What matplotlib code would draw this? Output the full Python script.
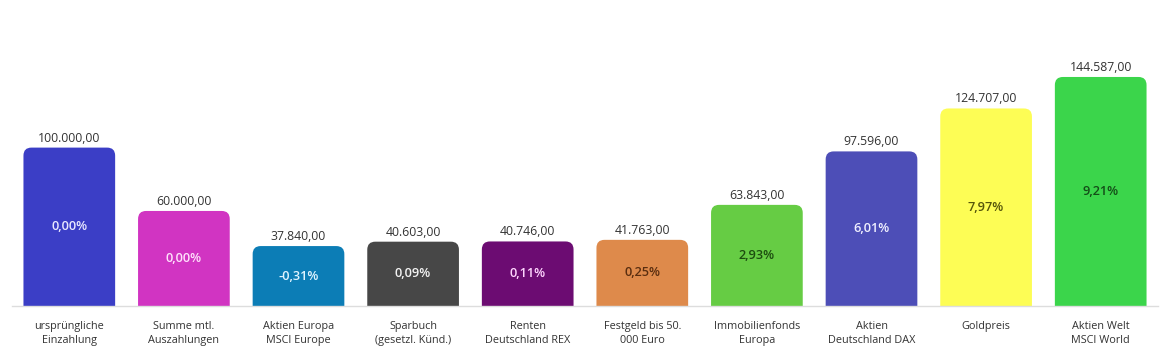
import matplotlib.pyplot as plt
from matplotlib.patches import FancyBboxPatch

plt.rcParams['font.family'] = ['Open Sans', 'DejaVu Sans']

# chart data
labels = ['ursprüngliche\nEinzahlung', 'Summe mtl.\nAuszahlungen', 'Aktien Europa\nMSCI Europe',
          'Sparbuch\n(gesetzl. Künd.)', 'Renten\nDeutschland REX', 'Festgeld bis 50.\n000 Euro',
          'Immobilienfonds\nEuropa', 'Aktien\nDeutschland DAX', 'Goldpreis', 'Aktien Welt\nMSCI World']
values = [100000, 60000, 37840, 40603, 40746, 41763, 63843, 97596, 124707, 144587]
value_text = ['100.000,00', '60.000,00', '37.840,00', '40.603,00', '40.746,00', '41.763,00',
              '63.843,00', '97.596,00', '124.707,00', '144.587,00']
pct_text = ['0,00%', '0,00%', '-0,31%', '0,09%', '0,11%', '0,25%', '2,93%', '6,01%', '7,97%', '9,21%']

colors = ['#3b3ec6', '#d134c2', '#0c7db6', '#474747', '#6c0c72', '#de8a4b',
          '#66cc44', '#4d4eb7', '#fdfd55', '#3bd54b']
pct_colors = ['#e8e8ff', '#ffe0fb', '#e0f4ff', '#f2f2f2', '#ffd6ff', '#5a2e10',
              '#1d4d10', '#f0f0ff', '#55550a', '#144d18']

W, H = 1174, 354
fig = plt.figure(figsize=(W / 100, H / 100), dpi=100)
ax = fig.add_axes([12 / W, (H - 306) / H, 1146 / W, 306 / H])
ax.set_xlim(-0.5, len(values) - 0.5)
ymax = 306 / 1.584 * 1000
ax.set_ylim(0, ymax)
ax.axis('off')
ax.axhline(0, color='#dddddd', lw=1, clip_on=False)

# units per pixel, for round corners that look round
xu = (len(values)) / 1146
yu = ymax / 306
r = 8  # corner radius, px
bw = 0.8

for i, v in enumerate(values):
    p = FancyBboxPatch((i - bw / 2, -r * yu * 2), bw, v + r * yu * 2,
                       boxstyle='round,pad=0,rounding_size=%f' % (r * xu),
                       mutation_aspect=yu / xu, fc=colors[i], ec='none')
    ax.add_patch(p)
    ax.text(i, v + 3 * yu, value_text[i], ha='center', va='bottom',
            fontsize=8.8, color='#333333')
    ax.text(i, v / 2, pct_text[i], ha='center', va='center',
            fontsize=9.2, color=pct_colors[i], fontweight='semibold')
    ax.text(i, -15 * yu, labels[i], ha='center', va='top', fontsize=7.8,
            color='#333333', linespacing=1.4)

fig.savefig('out.png', dpi=100)
